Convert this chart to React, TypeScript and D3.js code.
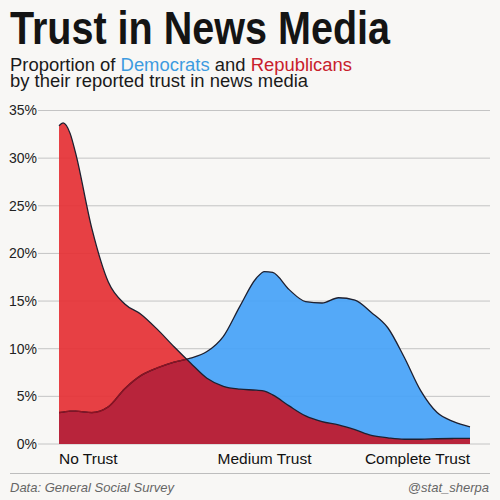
import React from "react";
import * as d3 from "d3";

const trustScore = [0, 1, 2.7, 4, 8, 12, 16, 20, 24, 28, 32, 36, 40, 44, 48, 50, 52, 56, 60, 64, 68, 72, 76, 80, 84, 88, 92, 96, 100];
const republicans = [33.4, 33.7, 32.6, 30.6, 22.6, 17.0, 14.7, 13.6, 12.0, 10.2, 8.5, 6.9, 6.05, 5.75, 5.65, 5.55, 5.15, 4.0, 2.95, 2.35, 2.0, 1.5, 0.9, 0.65, 0.5, 0.5, 0.55, 0.58, 0.6];
const democrats = [3.3, 3.35, 3.45, 3.45, 3.3, 3.9, 5.8, 7.2, 8.0, 8.6, 9.0, 9.7, 11.3, 14.45, 17.4, 18.1, 18.0, 16.2, 14.95, 14.8, 15.35, 15.1, 13.8, 12.2, 9.1, 5.6, 3.3, 2.35, 1.8];
const yTicks = [0, 5, 10, 15, 20, 25, 30, 35];
const xLabels = [
  { value: 0, text: "No Trust", anchor: "start" },
  { value: 50, text: "Medium Trust", anchor: "middle" },
  { value: 100, text: "Complete Trust", anchor: "end" },
];

const W = 500;
const H = 500;
const BG = "#f8f7f5";
const RED = "#e53236";
const BLUE = "#47a2f8";
const CRIMSON = "#be1e31";
const LINE = "#1e2030";
const FONT = "'Liberation Sans', Arial, Helvetica, sans-serif";

export default function App() {
  const x = d3.scaleLinear().domain([0, 100]).range([59, 470]);
  const y = d3.scaleLinear().domain([0, 35]).range([444, 110.5]);

  const rep = trustScore.map((t, i) => [t, republicans[i]] as [number, number]);
  const dem = trustScore.map((t, i) => [t, democrats[i]] as [number, number]);

  const area = d3
    .area<[number, number]>()
    .x((d) => x(d[0]))
    .y0(y(0))
    .y1((d) => y(d[1]))
    .curve(d3.curveMonotoneX);
  const line = d3
    .line<[number, number]>()
    .x((d) => x(d[0]))
    .y((d) => y(d[1]))
    .curve(d3.curveMonotoneX);

  const repArea = area(rep) || "";
  const demArea = area(dem) || "";
  const repLine = line(rep) || "";
  const demLine = line(dem) || "";

  return (
    <div style={{ position: "absolute", left: 0, top: 0 }}>
      <svg width={W} height={H} style={{ display: "block" }}>
        <defs>
          <clipPath id="repClip">
            <path d={repArea} />
          </clipPath>
        </defs>
        <rect x={0} y={0} width={W} height={H} fill={BG} />

        <text
          x={10}
          y={43.5}
          fontFamily={FONT}
          fontWeight="bold"
          fontSize={46}
          fill="#141414"
          textLength={380}
          lengthAdjust="spacingAndGlyphs"
        >
          Trust in News Media
        </text>
        <text
          x={10}
          y={70.5}
          fontFamily={FONT}
          fontSize={17.5}
          fill="#1a1a1a"
          textLength={342}
          lengthAdjust="spacingAndGlyphs"
        >
          Proportion of <tspan fill="#3d9be0">Democrats</tspan> and{" "}
          <tspan fill="#c8202c">Republicans</tspan>
        </text>
        <text
          x={10}
          y={86.5}
          fontFamily={FONT}
          fontSize={17.5}
          fill="#1a1a1a"
          textLength={298}
          lengthAdjust="spacingAndGlyphs"
        >
          by their reported trust in news media
        </text>

        {yTicks.map((t) => (
          <g key={t}>
            <line x1={38} x2={490} y1={y(t)} y2={y(t)} stroke="#c4c4c4" strokeWidth={1} />
            <text
              x={37}
              y={y(t)}
              dy="0.35em"
              textAnchor="end"
              fontFamily={FONT}
              fontSize={14}
              fill="#222"
            >
              {t}%
            </text>
          </g>
        ))}

        <path d={repArea} fill={RED} fillOpacity={0.93} />
        <path d={demArea} fill={BLUE} fillOpacity={0.93} />
        <path d={demArea} fill={CRIMSON} fillOpacity={0.95} clipPath="url(#repClip)" />
        <path d={demLine} fill="none" stroke={LINE} strokeWidth={1.3} />
        <path d={demLine} fill="none" stroke="#8e1222" strokeWidth={1.4} clipPath="url(#repClip)" />
        <path d={repLine} fill="none" stroke={LINE} strokeWidth={1.3} />

        {xLabels.map((l) => (
          <text
            key={l.text}
            x={x(l.value)}
            y={464}
            textAnchor={l.anchor as any}
            fontFamily={FONT}
            fontSize={15.5}
            fill="#111"
          >
            {l.text}
          </text>
        ))}

        <line x1={10} x2={490} y1={473.5} y2={473.5} stroke="#bdbdbd" strokeWidth={1} />
        <text x={10} y={492} fontFamily={FONT} fontStyle="italic" fontSize={13} fill="#666">
          Data: General Social Survey
        </text>
        <text x={489} y={492} textAnchor="end" fontFamily={FONT} fontStyle="italic" fontSize={13} fill="#666">
          @stat_sherpa
        </text>
      </svg>
    </div>
  );
}
